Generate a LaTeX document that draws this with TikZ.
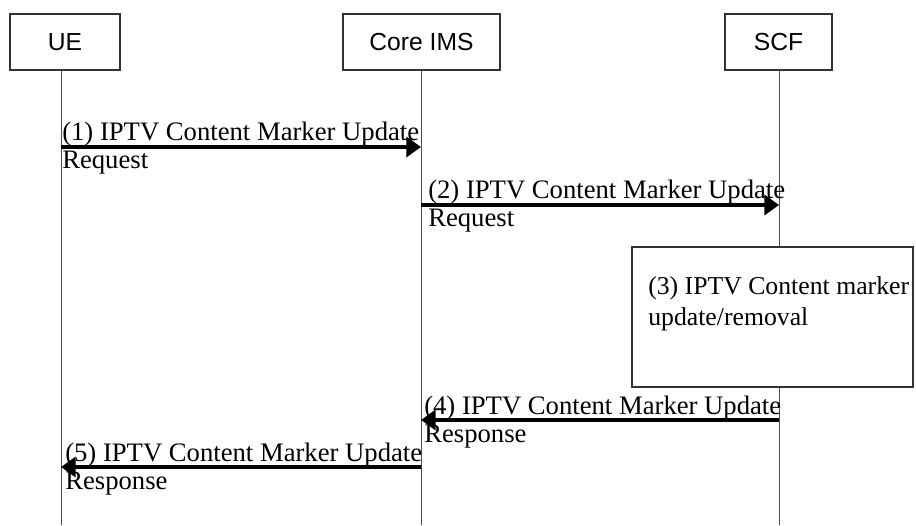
\documentclass[tikz,border=0pt]{standalone}
\usepackage{fontspec}
\usepackage{tikz}
\usetikzlibrary{arrows.meta, positioning}
\newfontfamily\boxfont{Liberation Sans}
\newfontfamily\msgfont{Liberation Serif}

\begin{document}
\begin{tikzpicture}[x=0.75pt, y=-0.75pt,
                    entity/.style={rectangle, draw=black!80, line width=0.8pt, fill=white, minimum height=42pt, inner sep=0pt, font=\boxfont\fontsize{18.5}{22}\selectfont},
                    procbox/.style={rectangle, draw=black!80, line width=0.8pt, fill=white, minimum width=210.75pt, minimum height=105pt, inner sep=0pt},
                    life/.style={draw=black!70, line width=0.75pt},
                    msg/.style={line width=3pt, -{Triangle[length=11pt, width=15pt]}},
                    label/.style={anchor=base west, align=left, inner sep=0pt, font=\msgfont\fontsize{20}{21}\selectfont}
                ]
                \useasboundingbox (0,0) rectangle (916,525);
                % entities
                \node[entity, minimum width=82.5pt] (ue) at (65,42) {UE};
                \node[entity, minimum width=117.75pt] (ims) at (421.5,42) {Core IMS};
                \node[entity, minimum width=80.25pt] (scf) at (778.5,42) {SCF};
                \coordinate (bottom) at (0,525);
                
                % lifelines
                \coordinate (ueL) at (61,0);
                \coordinate (imsL) at (421,0);
                \coordinate (scfL) at (779,0);
                \draw[life] (ueL |- ue.south) -- (ueL |- bottom);
                \draw[life] (imsL |- ims.south) -- (imsL |- bottom);
                \draw[life] (scfL |- scf.south) -- (scfL |- bottom);
                
                % messages (labels anchored on the baseline of their last line)
                \coordinate (m1) at (0,147);
                \coordinate (m2) at (0,205);
                \coordinate (m4) at (0,420);
                \coordinate (m5) at (0,467);
                \draw[msg] (ueL |- m1) -- (imsL |- m1);
                \node[label] (l1) at (62,168) {(1) IPTV Content Marker Update\\Request};
                \draw[msg] (imsL |- m2) -- (scfL |- m2);
                \node[label] (l2) at (428,226) {(2) IPTV Content Marker Update\\Request};
                
                \node[procbox] (upd) at (772.5,317) {};
                \node[label, font=\msgfont\fontsize{19.3}{23.25}\selectfont] (l3) at (648,325) {(3) IPTV Content marker\\update/removal};
                
                \draw[msg] (scfL |- m4) -- (imsL |- m4);
                \node[label] (l4) at (424,442) {(4) IPTV Content Marker Update\\Response};
                \draw[msg] (imsL |- m5) -- (ueL |- m5);
                \node[label] (l5) at (65,489) {(5) IPTV Content Marker Update\\Response};
                \end{tikzpicture}
\end{document}
